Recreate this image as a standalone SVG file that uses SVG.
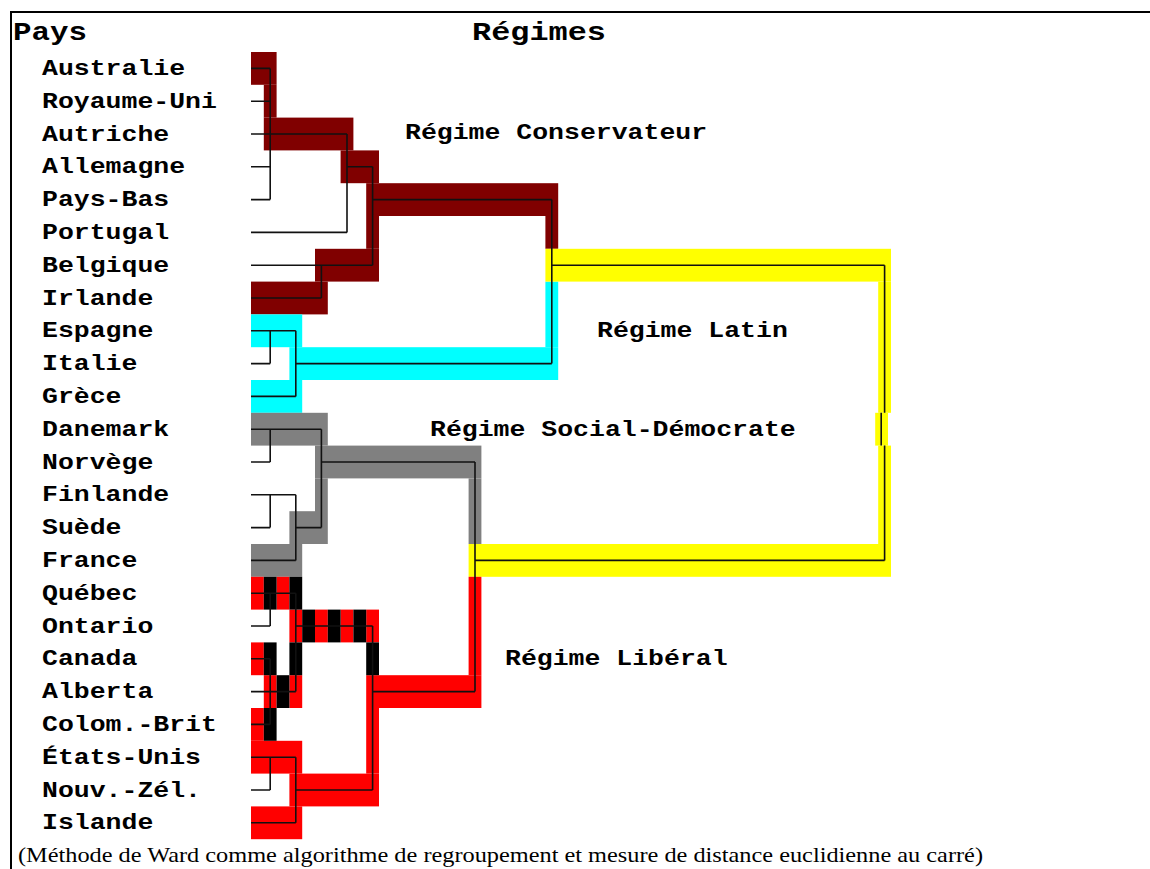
<svg xmlns="http://www.w3.org/2000/svg" width="1150" height="869" viewBox="0 0 1150 869">
  <style>
    .frame { stroke: #000; stroke-width: 2; fill: none; }
    .title { font-family: "Liberation Mono", "Courier New", monospace; font-weight: bold; font-size: 25px; fill: #000; }
    .lbl { font-family: "Liberation Mono", "Courier New", monospace; font-weight: bold; font-size: 22px; fill: #000; }
    .note { font-family: "Liberation Serif", "Times New Roman", serif; font-size: 21px; fill: #000; }
    .cons { fill: #800000; }
    .latin { fill: #00ffff; }
    .soc { fill: #808080; }
    .top { fill: #ffff00; }
    .lib { fill: #ff0000; }
    .blk { fill: #000000; }
    .link { stroke: #111; stroke-width: 1.6; fill: none; }
  </style>

  <!-- outer frame (top and left edges) -->
  <path class="frame" d="M11 869V12H1150"/>

  <!-- column headings -->
  <text class="title" x="13" y="40" textLength="74" lengthAdjust="spacingAndGlyphs">Pays</text>
  <text class="title" x="472" y="39.5" textLength="134" lengthAdjust="spacingAndGlyphs">Régimes</text>

  <!-- country labels -->
  <g id="countries">
    <text class="lbl" x="42" y="74.9" textLength="143.1" lengthAdjust="spacingAndGlyphs">Australie</text>
    <text class="lbl" x="42" y="107.7" textLength="174.9" lengthAdjust="spacingAndGlyphs">Royaume-Uni</text>
    <text class="lbl" x="42" y="140.5" textLength="127.2" lengthAdjust="spacingAndGlyphs">Autriche</text>
    <text class="lbl" x="42" y="173.3" textLength="143.1" lengthAdjust="spacingAndGlyphs">Allemagne</text>
    <text class="lbl" x="42" y="206.1" textLength="127.2" lengthAdjust="spacingAndGlyphs">Pays-Bas</text>
    <text class="lbl" x="42" y="238.9" textLength="127.2" lengthAdjust="spacingAndGlyphs">Portugal</text>
    <text class="lbl" x="42" y="271.7" textLength="127.2" lengthAdjust="spacingAndGlyphs">Belgique</text>
    <text class="lbl" x="42" y="304.5" textLength="111.3" lengthAdjust="spacingAndGlyphs">Irlande</text>
    <text class="lbl" x="42" y="337.3" textLength="111.3" lengthAdjust="spacingAndGlyphs">Espagne</text>
    <text class="lbl" x="42" y="370.1" textLength="95.4" lengthAdjust="spacingAndGlyphs">Italie</text>
    <text class="lbl" x="42" y="402.9" textLength="79.5" lengthAdjust="spacingAndGlyphs">Grèce</text>
    <text class="lbl" x="42" y="435.7" textLength="127.2" lengthAdjust="spacingAndGlyphs">Danemark</text>
    <text class="lbl" x="42" y="468.5" textLength="111.3" lengthAdjust="spacingAndGlyphs">Norvège</text>
    <text class="lbl" x="42" y="501.3" textLength="127.2" lengthAdjust="spacingAndGlyphs">Finlande</text>
    <text class="lbl" x="42" y="534.1" textLength="79.5" lengthAdjust="spacingAndGlyphs">Suède</text>
    <text class="lbl" x="42" y="566.9" textLength="95.4" lengthAdjust="spacingAndGlyphs">France</text>
    <text class="lbl" x="42" y="599.7" textLength="95.4" lengthAdjust="spacingAndGlyphs">Québec</text>
    <text class="lbl" x="42" y="632.5" textLength="111.3" lengthAdjust="spacingAndGlyphs">Ontario</text>
    <text class="lbl" x="42" y="665.3" textLength="95.4" lengthAdjust="spacingAndGlyphs">Canada</text>
    <text class="lbl" x="42" y="698.1" textLength="111.3" lengthAdjust="spacingAndGlyphs">Alberta</text>
    <text class="lbl" x="42" y="730.9" textLength="174.9" lengthAdjust="spacingAndGlyphs">Colom.-Brit</text>
    <text class="lbl" x="42" y="763.7" textLength="159" lengthAdjust="spacingAndGlyphs">États-Unis</text>
    <text class="lbl" x="42" y="796.5" textLength="159" lengthAdjust="spacingAndGlyphs">Nouv.-Zél.</text>
    <text class="lbl" x="42" y="829.3" textLength="111.3" lengthAdjust="spacingAndGlyphs">Islande</text>
  </g>

  <!-- conservative regime highlight -->
  <g id="regime-conservateur">
    <rect class="cons" x="251" y="52" width="25.6" height="32.8"/>
    <rect class="cons" x="263.8" y="84.8" width="12.8" height="32.8"/>
    <rect class="cons" x="263.8" y="117.6" width="89.6" height="32.8"/>
    <rect class="cons" x="340.6" y="150.4" width="38.4" height="32.8"/>
    <rect class="cons" x="366.2" y="183.2" width="192" height="32.8"/>
    <rect class="cons" x="366.2" y="216" width="12.8" height="32.8"/>
    <rect class="cons" x="545.4" y="216" width="12.8" height="32.8"/>
    <rect class="cons" x="315" y="248.8" width="64" height="32.8"/>
    <rect class="cons" x="251" y="281.6" width="76.8" height="32.8"/>
    <text class="lbl" x="405" y="139" textLength="302.1" lengthAdjust="spacingAndGlyphs">Régime Conservateur</text>
  </g>

  <!-- latin regime highlight -->
  <g id="regime-latin">
    <rect class="latin" x="545.4" y="281.6" width="12.8" height="65.6"/>
    <rect class="latin" x="251" y="314.4" width="51.2" height="32.8"/>
    <rect class="latin" x="289.4" y="347.2" width="268.8" height="32.8"/>
    <rect class="latin" x="251" y="380" width="51.2" height="32.8"/>
    <text class="lbl" x="597" y="336.5" textLength="190.8" lengthAdjust="spacingAndGlyphs">Régime Latin</text>
  </g>

  <!-- social-democratic regime highlight -->
  <g id="regime-social-democrate">
    <rect class="soc" x="251" y="412.8" width="76.8" height="32.8"/>
    <rect class="soc" x="315" y="445.6" width="166.4" height="32.8"/>
    <rect class="soc" x="315" y="478.4" width="12.8" height="65.6"/>
    <rect class="soc" x="468.6" y="478.4" width="12.8" height="65.6"/>
    <rect class="soc" x="289.4" y="511.2" width="25.6" height="32.8"/>
    <rect class="soc" x="251" y="544" width="51.2" height="32.8"/>
    <text class="lbl" x="430" y="435.5" textLength="365.7" lengthAdjust="spacingAndGlyphs">Régime Social-Démocrate</text>
  </g>

  <!-- upper-level junction highlight -->
  <g id="jonction">
    <rect class="top" x="545.4" y="248.8" width="345.6" height="32.8"/>
    <rect class="top" x="878.2" y="281.6" width="12.8" height="131.2"/>
    <rect class="top" x="875.2" y="412.8" width="12.8" height="32.8"/>
    <rect class="top" x="878.2" y="445.6" width="12.8" height="98.4"/>
    <rect class="top" x="468.6" y="544" width="422.4" height="32.8"/>
  </g>

  <!-- liberal regime highlight (red with black cells) -->
  <g id="regime-liberal">
    <rect class="lib" x="251" y="576.8" width="12.8" height="32.8"/>
    <rect class="lib" x="276.6" y="576.8" width="12.8" height="32.8"/>
    <rect class="lib" x="468.6" y="576.8" width="12.8" height="98.4"/>
    <rect class="lib" x="289.4" y="609.6" width="12.8" height="32.8"/>
    <rect class="lib" x="315" y="609.6" width="12.8" height="32.8"/>
    <rect class="lib" x="340.6" y="609.6" width="12.8" height="32.8"/>
    <rect class="lib" x="366.2" y="609.6" width="12.8" height="32.8"/>
    <rect class="lib" x="251" y="642.4" width="12.8" height="32.8"/>
    <rect class="lib" x="263.8" y="675.2" width="12.8" height="32.8"/>
    <rect class="lib" x="289.4" y="675.2" width="12.8" height="32.8"/>
    <rect class="lib" x="366.2" y="675.2" width="115.2" height="32.8"/>
    <rect class="lib" x="366.2" y="708" width="12.8" height="65.6"/>
    <rect class="lib" x="251" y="708" width="12.8" height="32.8"/>
    <rect class="lib" x="251" y="740.8" width="51.2" height="32.8"/>
    <rect class="lib" x="289.4" y="773.6" width="89.6" height="32.8"/>
    <rect class="lib" x="251" y="806.4" width="51.2" height="32.8"/>
    <rect class="blk" x="263.8" y="576.8" width="12.8" height="32.8"/>
    <rect class="blk" x="289.4" y="576.8" width="12.8" height="32.8"/>
    <rect class="blk" x="302.2" y="609.6" width="12.8" height="32.8"/>
    <rect class="blk" x="327.8" y="609.6" width="12.8" height="32.8"/>
    <rect class="blk" x="353.4" y="609.6" width="12.8" height="32.8"/>
    <rect class="blk" x="263.8" y="642.4" width="12.8" height="32.8"/>
    <rect class="blk" x="289.4" y="642.4" width="12.8" height="32.8"/>
    <rect class="blk" x="366.2" y="642.4" width="12.8" height="32.8"/>
    <rect class="blk" x="276.6" y="675.2" width="12.8" height="32.8"/>
    <rect class="blk" x="263.8" y="708" width="12.8" height="32.8"/>
    <text class="lbl" x="505" y="665" textLength="222.6" lengthAdjust="spacingAndGlyphs">Régime Libéral</text>
  </g>

  <!-- dendrogram links -->
  <g id="connectors" class="link">
    <path d="M251 68.4H270.2M251 101.2H270.2M251 134H347M251 166.8H270.2M251 199.6H270.2M251 232.4H347M251 265.2H372.6M251 298H321.4M270.2 68.4V199.6M347 134V232.4M347 166.8H372.6M372.6 166.8V265.2M321.4 265.2V298M372.6 199.6H551.8"/>
    <path d="M251 330.8H295.8M251 363.6H270.2M251 396.4H295.8M270.2 330.8V363.6M295.8 330.8V396.4M295.8 363.6H551.8M551.8 199.6V363.6"/>
    <path d="M551.8 265.2H884.6M884.6 265.2V412.8M881.2 412.8V445.6M884.6 445.6V560.4M475 560.4H884.6"/>
    <path d="M251 429.2H321.4M251 462H270.2M251 494.8H295.8M251 527.6H270.2M251 560.4H295.8M270.2 429.2V462M321.4 429.2V527.6M270.2 494.8V527.6M295.8 494.8V560.4M295.8 527.6H321.4M321.4 462H475M475 462V691.6"/>
    <path d="M251 593.2H295.8M251 626H270.2M251 658.8H270.2M251 691.6H295.8M251 724.4H270.2M251 757.2H295.8M251 790H270.2M251 822.8H295.8M270.2 593.2V626M295.8 593.2V691.6M270.2 658.8V724.4M295.8 626H372.6M372.6 626V790M372.6 691.6H475M270.2 757.2V790M295.8 757.2V822.8M295.8 790H372.6"/>
  </g>

  <!-- method note -->
  <text class="note" x="18" y="861.5" textLength="965" lengthAdjust="spacingAndGlyphs">(Méthode de Ward comme algorithme de regroupement et mesure de distance euclidienne au carré)</text>
</svg>
